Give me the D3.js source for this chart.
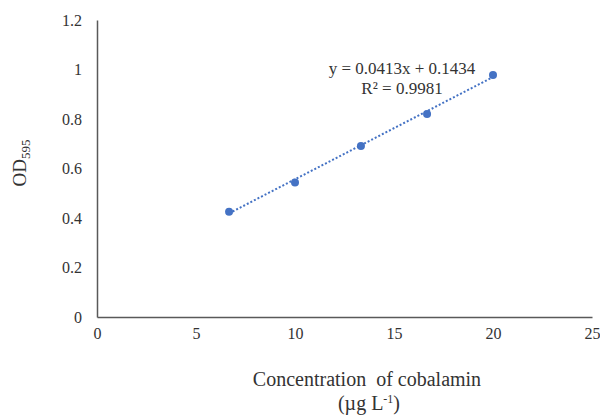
<!DOCTYPE html>
<html>
<head>
<meta charset="utf-8">
<script src="https://cdn.jsdelivr.net/npm/d3@7"></script>
<style>
  body { margin: 0; background: #fff; }
  text { font-family: "Liberation Serif", "Times New Roman", serif; fill: #333; }
</style>
</head>
<body>
<div id="chart"></div>
<script>
// Data
var concentrations = [6.67, 10, 13.33, 16.67, 20];
var odValues = [0.425, 0.543, 0.691, 0.820, 0.978];
var xTicks = [0, 5, 10, 15, 20, 25];
var yTicks = [0, 0.2, 0.4, 0.6, 0.8, 1, 1.2];
var slope = 0.0413;
var intercept = 0.1434;
var equationLines = ["y = 0.0413x + 0.1434", "R² = 0.9981"];

var width = 600, height = 415;
var margin = {top: 20, right: 8, bottom: 98, left: 97};

var svg = d3.select("#chart").append("svg")
    .attr("width", width)
    .attr("height", height);

var xScale = d3.scaleLinear().domain([0, 25]).range([margin.left, width - margin.right]);
var yScale = d3.scaleLinear().domain([0, 1.2]).range([height - margin.bottom, margin.top]);

// Axes (no tick marks, only labels)
svg.append("g")
    .attr("transform", "translate(0," + yScale(0) + ")")
    .call(d3.axisBottom(xScale).tickValues(xTicks).tickSize(0).tickPadding(11).tickFormat(d3.format("d")));
svg.append("g")
    .attr("transform", "translate(" + xScale(0) + ",0)")
    .call(d3.axisLeft(yScale).tickValues(yTicks).tickSize(0).tickPadding(15).tickFormat(function(d) { return String(d); }));

svg.selectAll(".domain").attr("stroke", "#595959").attr("stroke-width", 1.5);
svg.selectAll(".tick text").style("font-size", "16px").style("font-family", "Liberation Serif").attr("fill", "#333");

// Trendline
var trend = d3.line()
    .x(function(d) { return xScale(d); })
    .y(function(d) { return yScale(slope * d + intercept); });
svg.append("path")
    .datum([concentrations[0], concentrations[concentrations.length - 1]])
    .attr("d", trend)
    .attr("fill", "none")
    .attr("stroke", "#4472C4")
    .attr("stroke-width", 2)
    .attr("stroke-dasharray", "2,2");

// Points
svg.selectAll(".dot")
    .data(concentrations).enter()
    .append("circle")
        .attr("class", "dot")
        .attr("cx", function(d) { return xScale(d); })
        .attr("cy", function(d, i) { return yScale(odValues[i]); })
        .attr("r", 4)
        .attr("fill", "#4472C4");

// Equation label
svg.selectAll(".eq")
    .data(equationLines).enter()
    .append("text")
        .attr("class", "eq")
        .attr("x", 402)
        .attr("y", function(d, i) { return 74 + i * 20; })
        .attr("text-anchor", "middle")
        .style("font-size", "17px")
        .text(function(d) { return d; });

// Y title: OD595
var yTitle = svg.append("text")
    .attr("transform", "translate(26,163) rotate(-90)")
    .attr("text-anchor", "middle")
    .style("font-size", "19px");
yTitle.append("tspan").text("OD");
yTitle.append("tspan").attr("dy", 4).style("font-size", "13px").text("595");

// X title
svg.append("text")
    .attr("x", 367)
    .attr("y", 386)
    .attr("text-anchor", "middle")
    .style("font-size", "20px")
    .attr("xml:space", "preserve")
    .text("Concentration  of cobalamin");
var xSub = svg.append("text")
    .attr("x", 369)
    .attr("y", 410)
    .attr("text-anchor", "middle")
    .style("font-size", "20px");
xSub.append("tspan").text("(µg L");
xSub.append("tspan").attr("dy", -7).style("font-size", "12px").text("-1");
xSub.append("tspan").attr("dy", 7).text(")");
</script>
</body>
</html>
